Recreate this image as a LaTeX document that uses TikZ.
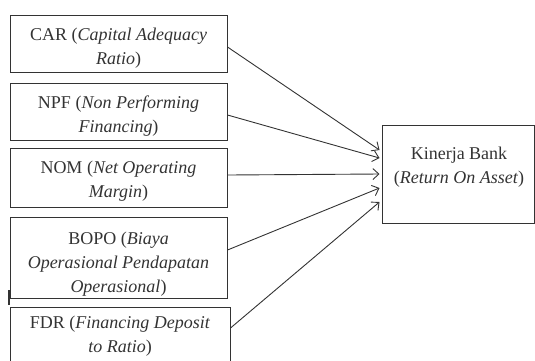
\documentclass[tikz,border=0pt]{standalone}
\usepackage{fontspec}
\setmainfont{Liberation Serif}
\usetikzlibrary{arrows.meta}
\definecolor{ln}{HTML}{333333}
\begin{document}
\begin{tikzpicture}[x=1pt,y=-1pt,
  box/.style={draw=ln,line width=1pt,rectangle,inner sep=0pt},
  txt/.style={inner sep=0pt,align=center,text=ln,font=\fontsize{18}{24}\selectfont},
  conn/.style={draw=ln,line width=0.9pt,-{Straight Barb[length=6pt,width=11pt]}}]
\useasboundingbox (0,0) rectangle (535,360);
\clip (0,0) rectangle (535,360);
\node[box,minimum width=217pt,minimum height=57pt] (car) at (118.5,43.5) {};
\node[txt] (cart) at (118.5,48.5) {CAR (\textit{Capital Adequacy}\\\textit{Ratio})};
\node[box,minimum width=217pt,minimum height=57pt] (npf) at (118.5,111.5) {};
\node[txt] (npft) at (118.5,116.5) {NPF (\textit{Non Performing}\\\textit{Financing})};
\node[box,minimum width=217pt,minimum height=59pt] (nom) at (118.5,177.5) {};
\node[txt] (nomt) at (118.5,181) {NOM (\textit{Net Operating}\\\textit{Margin})};
\node[box,minimum width=217pt,minimum height=81pt] (bopo) at (118.5,257.5) {};
\node[txt] (bopot) at (118.5,264.5) {BOPO (\textit{Biaya}\\\textit{Operasional Pendapatan}\\\textit{Operasional})};
\node[box,minimum width=220pt,minimum height=58pt] (fdr) at (120,336) {};
\node[txt] (fdrt) at (120,336.5) {FDR (\textit{Financing Deposit}\\\textit{to Ratio})};
\node[box,minimum width=152pt,minimum height=98pt] (kb) at (458,174) {};
\node[txt] (kt) at (459,167) {Kinerja Bank\\(\textit{Return On Asset})};
\coordinate (mk1) at (9,290);
\coordinate (mk2) at (9,305);
\draw[ln,line width=2pt] (mk1) -- (mk2);
\draw[conn] ([yshift=-3.5pt]car.east) -- ([yshift=24pt,xshift=-2pt]kb.west);
\draw[conn] ([yshift=-3.5pt]npf.east) -- ([yshift=16pt,xshift=-2pt]kb.west);
\draw[conn] ([yshift=2.5pt]nom.east) -- ([yshift=0pt,xshift=-2pt]kb.west);
\draw[conn] ([yshift=7.5pt]bopo.east) -- ([yshift=-14pt,xshift=-2pt]kb.west);
\draw[conn] ([yshift=8pt]fdr.east) -- ([yshift=-28pt,xshift=-2pt]kb.west);
\end{tikzpicture}
\end{document}
